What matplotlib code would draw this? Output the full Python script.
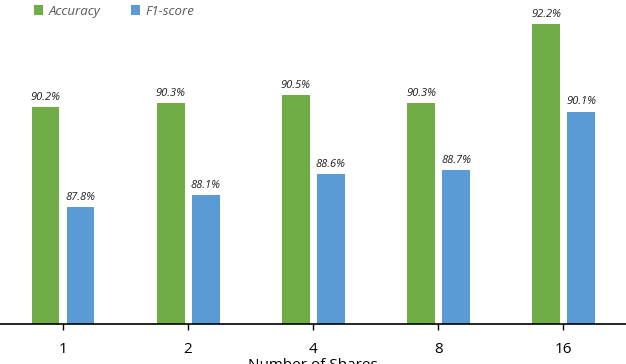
import matplotlib.pyplot as plt
import numpy as np

# data
shares = ['1', '2', '4', '8', '16']
accuracy = [90.2, 90.3, 90.5, 90.3, 92.2]
f1score = [87.8, 88.1, 88.6, 88.7, 90.1]

green = '#70AD47'
blue = '#5B9BD5'

plt.rcParams['font.family'] = ['Open Sans', 'DejaVu Sans']

fig = plt.figure(figsize=(6.26, 3.64), dpi=100)
ax = fig.add_axes([0.0, 40 / 364, 1.0, 324 / 364])

x = np.arange(len(shares))
w = 0.222
b1 = ax.bar(x - 0.137, accuracy, w, color=green, bottom=0, label='Accuracy')
b2 = ax.bar(x + 0.143, f1score, w, color=blue, bottom=0, label='F1-score')

for bars, vals in ((b1, accuracy), (b2, f1score)):
    for r, v in zip(bars, vals):
        ax.annotate('%.1f%%' % v, (r.get_x() + r.get_width() / 2, v),
                    xytext=(0, 3), textcoords='offset points',
                    ha='center', va='bottom', fontsize=8, style='italic',
                    color='#222222')

ax.set_ylim(85, 92.78)
ax.set_xlim(-0.5, 4.5)
ax.set_yticks([])
ax.set_xticks(x)
ax.set_xticklabels(shares, fontsize=11)
ax.tick_params(axis='x', length=4, width=1, pad=9, colors='black')
for s in ['top', 'right', 'left']:
    ax.spines[s].set_visible(False)
ax.spines['bottom'].set_linewidth(1.2)
ax.set_xlabel('Number of Shares', fontsize=11, labelpad=1)

fig.legend(handles=[b1, b2], loc='upper left', bbox_to_anchor=(0.035, 1.02),
           ncol=2, frameon=False, prop={'size': 9.5, 'style': 'italic'},
           labelcolor='#595959', handlelength=0.7, handleheight=0.7,
           handletextpad=0.4, columnspacing=2.3)

fig.savefig('out.png', dpi=100)
